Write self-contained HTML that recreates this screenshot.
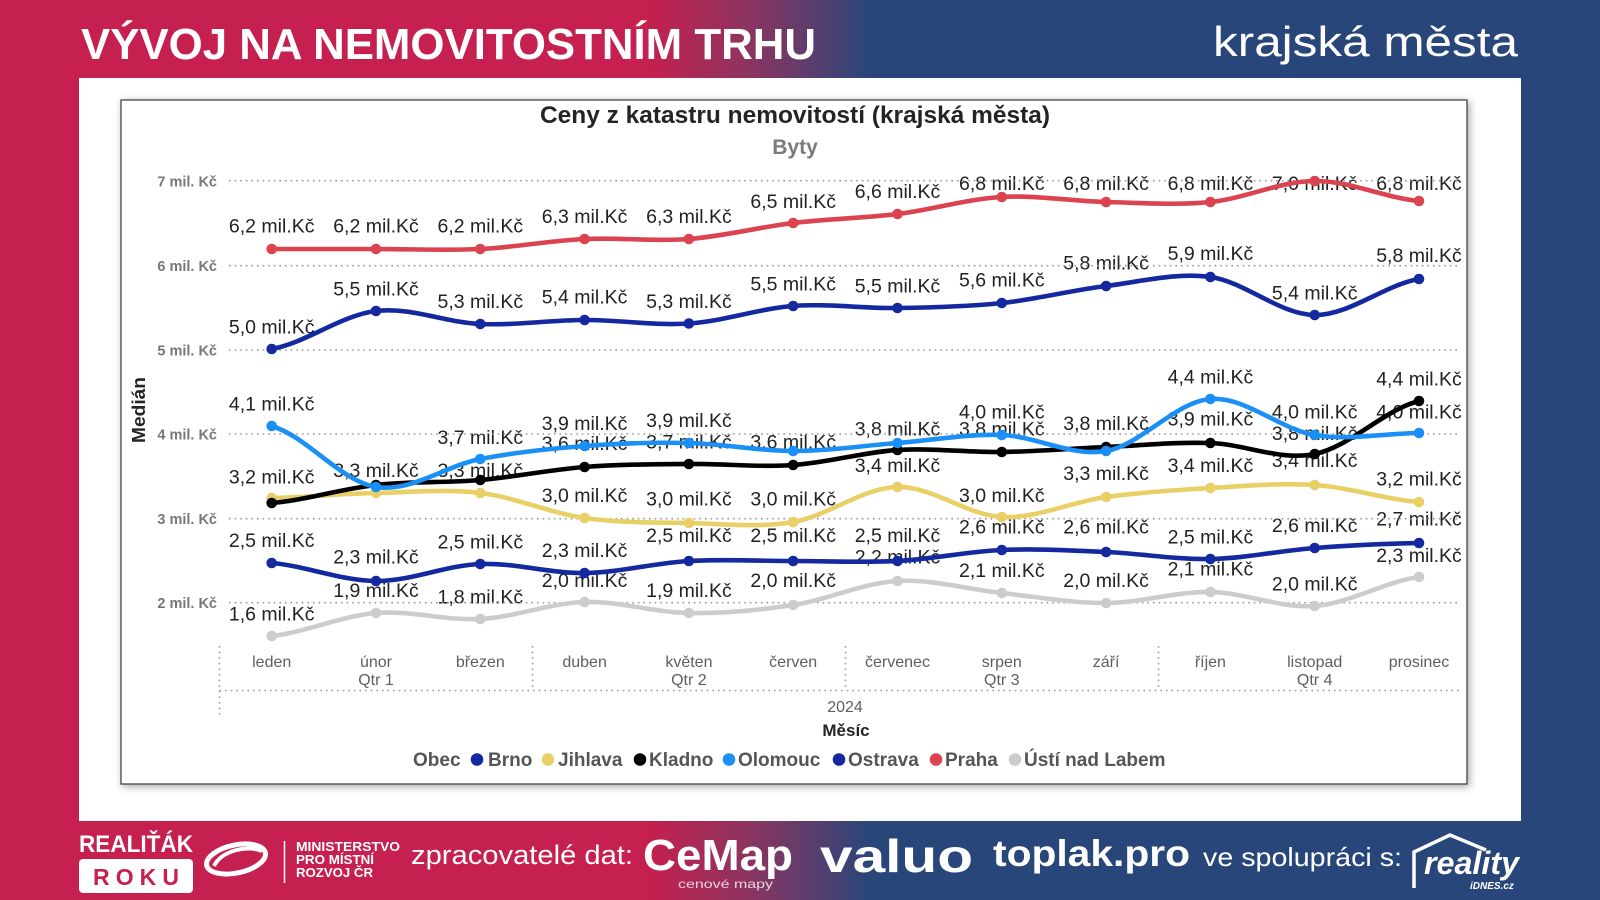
<!DOCTYPE html>
<html><head><meta charset="utf-8"><style>
html,body{margin:0;padding:0;background:#fff;}
body{width:1600px;height:900px;overflow:hidden;}
svg{display:block;}
.lb{font-family:"Liberation Sans",Arial,sans-serif;font-size:19.5px;fill:#222;text-anchor:middle;}
.yl{font-family:"Liberation Sans",Arial,sans-serif;font-size:14.5px;font-weight:bold;fill:#777;text-anchor:end;}
.mo{font-family:"Liberation Sans",Arial,sans-serif;font-size:16px;fill:#605E5C;text-anchor:middle;}
.lg{font-family:"Liberation Sans",Arial,sans-serif;font-size:19px;font-weight:bold;fill:#555;}
.ln{fill:none;stroke-width:4.6;stroke-linecap:round;stroke-linejoin:round;}
.gd{stroke:#9a9a9a;stroke-width:1.6;stroke-dasharray:1.6 4;fill:none;}
.ft{font-family:"Liberation Sans",Arial,sans-serif;fill:#fff;}
</style></head><body>
<svg width="1600" height="900" viewBox="0 0 1600 900" xmlns="http://www.w3.org/2000/svg">
<defs>
<linearGradient id="bg" x1="0" y1="0" x2="1600" y2="0" gradientUnits="userSpaceOnUse">
<stop offset="0" stop-color="#C5204F"/>
<stop offset="0.405" stop-color="#C5204F"/>
<stop offset="0.47" stop-color="#8A3561"/>
<stop offset="0.545" stop-color="#28467A"/>
<stop offset="1" stop-color="#28467A"/>
</linearGradient>
<filter id="sh" x="-5%" y="-5%" width="110%" height="110%">
<feDropShadow dx="2" dy="2" stdDeviation="4" flood-color="#000" flood-opacity="0.35"/>
</filter>
</defs>
<rect x="0" y="0" width="1600" height="900" fill="url(#bg)"/>

<!-- header -->
<text class="ft" x="81" y="59" font-size="44" font-weight="bold" textLength="735" lengthAdjust="spacingAndGlyphs">VÝVOJ NA NEMOVITOSTNÍM TRHU</text>
<text class="ft" x="1213" y="56" font-size="42" textLength="305" lengthAdjust="spacingAndGlyphs">krajská města</text>

<!-- white panel -->
<rect x="79" y="78" width="1442" height="743" fill="#fff"/>
<!-- chart frame -->
<rect x="121" y="100" width="1346" height="684" fill="#fff" stroke="#444" stroke-width="1.3" filter="url(#sh)"/>

<!-- titles -->
<text x="795" y="123" font-family="Liberation Sans, Arial, sans-serif" font-size="24.5" font-weight="bold" fill="#252423" text-anchor="middle" textLength="510" lengthAdjust="spacingAndGlyphs">Ceny z katastru nemovitostí (krajská města)</text>
<text x="795" y="154" font-family="Liberation Sans, Arial, sans-serif" font-size="21" font-weight="bold" fill="#7a7a7a" text-anchor="middle">Byty</text>

<!-- y axis labels -->
<text class="yl" x="217" y="186.5">7 mil. Kč</text>
<text class="yl" x="217" y="271">6 mil. Kč</text>
<text class="yl" x="217" y="355.5">5 mil. Kč</text>
<text class="yl" x="217" y="439.5">4 mil. Kč</text>
<text class="yl" x="217" y="524">3 mil. Kč</text>
<text class="yl" x="217" y="608">2 mil. Kč</text>
<text x="145" y="410" transform="rotate(-90 145 410)" font-family="Liberation Sans, Arial, sans-serif" font-size="18" font-weight="bold" fill="#252423" text-anchor="middle" textLength="66" lengthAdjust="spacingAndGlyphs">Medián</text>

<!-- data labels -->
<g class="lb">
<text x="271.7" y="232.5">6,2 mil.Kč</text><text x="271.7" y="333.5">5,0 mil.Kč</text><text x="271.7" y="410.5">4,1 mil.Kč</text><text x="271.7" y="483.7">3,2 mil.Kč</text><text x="271.7" y="547">2,5 mil.Kč</text><text x="271.7" y="620.3">1,6 mil.Kč</text>
<text x="376" y="232.5">6,2 mil.Kč</text><text x="376" y="295.5">5,5 mil.Kč</text><text x="376" y="477">3,3 mil.Kč</text><text x="376" y="563.7">2,3 mil.Kč</text><text x="376" y="597">1,9 mil.Kč</text>
<text x="480.3" y="232.5">6,2 mil.Kč</text><text x="480.3" y="308">5,3 mil.Kč</text><text x="480.3" y="444">3,7 mil.Kč</text><text x="480.3" y="477">3,3 mil.Kč</text><text x="480.3" y="548.7">2,5 mil.Kč</text><text x="480.3" y="603.7">1,8 mil.Kč</text>
<text x="584.6" y="223">6,3 mil.Kč</text><text x="584.6" y="303.7">5,4 mil.Kč</text><text x="584.6" y="430">3,9 mil.Kč</text><text x="584.6" y="450">3,6 mil.Kč</text><text x="584.6" y="502">3,0 mil.Kč</text><text x="584.6" y="557">2,3 mil.Kč</text><text x="584.6" y="587">2,0 mil.Kč</text>
<text x="688.9" y="223">6,3 mil.Kč</text><text x="688.9" y="308">5,3 mil.Kč</text><text x="688.9" y="427">3,9 mil.Kč</text><text x="688.9" y="448.5">3,7 mil.Kč</text><text x="688.9" y="505.5">3,0 mil.Kč</text><text x="688.9" y="542">2,5 mil.Kč</text><text x="688.9" y="597">1,9 mil.Kč</text>
<text x="793.2" y="208">6,5 mil.Kč</text><text x="793.2" y="290.6">5,5 mil.Kč</text><text x="793.2" y="448.5">3,6 mil.Kč</text><text x="793.2" y="505.5">3,0 mil.Kč</text><text x="793.2" y="542">2,5 mil.Kč</text><text x="793.2" y="587">2,0 mil.Kč</text>
<text x="897.5" y="198">6,6 mil.Kč</text><text x="897.5" y="292.6">5,5 mil.Kč</text><text x="897.5" y="435.7">3,8 mil.Kč</text><text x="897.5" y="472">3,4 mil.Kč</text><text x="897.5" y="542">2,5 mil.Kč</text><text x="897.5" y="563.7">2,2 mil.Kč</text>
<text x="1001.8" y="190">6,8 mil.Kč</text><text x="1001.8" y="286.5">5,6 mil.Kč</text><text x="1001.8" y="418.7">4,0 mil.Kč</text><text x="1001.8" y="435.7">3,8 mil.Kč</text><text x="1001.8" y="502">3,0 mil.Kč</text><text x="1001.8" y="533.7">2,6 mil.Kč</text><text x="1001.8" y="577">2,1 mil.Kč</text>
<text x="1106.1" y="190">6,8 mil.Kč</text><text x="1106.1" y="269.7">5,8 mil.Kč</text><text x="1106.1" y="430">3,8 mil.Kč</text><text x="1106.1" y="480">3,3 mil.Kč</text><text x="1106.1" y="533.7">2,6 mil.Kč</text><text x="1106.1" y="587">2,0 mil.Kč</text>
<text x="1210.4" y="190">6,8 mil.Kč</text><text x="1210.4" y="260">5,9 mil.Kč</text><text x="1210.4" y="383.7">4,4 mil.Kč</text><text x="1210.4" y="425.3">3,9 mil.Kč</text><text x="1210.4" y="472">3,4 mil.Kč</text><text x="1210.4" y="543.7">2,5 mil.Kč</text><text x="1210.4" y="575.3">2,1 mil.Kč</text>
<text x="1314.7" y="190">7,0 mil.Kč</text><text x="1314.7" y="299.7">5,4 mil.Kč</text><text x="1314.7" y="418.7">4,0 mil.Kč</text><text x="1314.7" y="440">3,8 mil.Kč</text><text x="1314.7" y="467">3,4 mil.Kč</text><text x="1314.7" y="532">2,6 mil.Kč</text><text x="1314.7" y="590.3">2,0 mil.Kč</text>
<text x="1419" y="190">6,8 mil.Kč</text><text x="1419" y="262">5,8 mil.Kč</text><text x="1419" y="385.3">4,4 mil.Kč</text><text x="1419" y="418.7">4,0 mil.Kč</text><text x="1419" y="485.3">3,2 mil.Kč</text><text x="1419" y="525.3">2,7 mil.Kč</text><text x="1419" y="562">2,3 mil.Kč</text>
</g>

<!-- gridlines -->
<g class="gd">
<line x1="229" y1="180.7" x2="1460" y2="180.7"/>
<line x1="229" y1="265.7" x2="1460" y2="265.7"/>
<line x1="229" y1="350" x2="1460" y2="350"/>
<line x1="229" y1="434" x2="1460" y2="434"/>
<line x1="229" y1="518.7" x2="1460" y2="518.7"/>
<line x1="229" y1="602.7" x2="1460" y2="602.7"/>
</g>

<!-- series -->
<!-- Brno -->
<path class="ln" stroke="#1428A0" d="M271.7,349 C306.5,342.7 341.2,315.2 376,311 C410.8,306.8 445.5,322.5 480.3,324 C515.1,325.5 549.8,320.1 584.6,320 C619.4,319.9 654.1,325.8 688.9,323.5 C723.7,321.2 758.4,308.6 793.2,306 C828,303.4 862.7,308.5 897.5,308 C932.3,307.5 967,306.7 1001.8,303 C1036.6,299.3 1071.3,290.3 1106.1,286 C1140.9,281.7 1175.6,272.2 1210.4,277 C1245.2,281.8 1279.9,314.7 1314.7,315 C1349.5,315.3 1384.2,285 1419,279"/>
<g fill="#1428A0"><circle cx="271.7" cy="349" r="5.3"/><circle cx="376" cy="311" r="5.3"/><circle cx="480.3" cy="324" r="5.3"/><circle cx="584.6" cy="320" r="5.3"/><circle cx="688.9" cy="323.5" r="5.3"/><circle cx="793.2" cy="306" r="5.3"/><circle cx="897.5" cy="308" r="5.3"/><circle cx="1001.8" cy="303" r="5.3"/><circle cx="1106.1" cy="286" r="5.3"/><circle cx="1210.4" cy="277" r="5.3"/><circle cx="1314.7" cy="315" r="5.3"/><circle cx="1419" cy="279" r="5.3"/></g>
<!-- Jihlava -->
<path class="ln" stroke="#E8CF66" d="M271.7,498 C306.5,497.2 341.2,493.8 376,493 C410.8,492.2 445.5,488.8 480.3,493 C515.1,497.2 549.8,513 584.6,518 C619.4,523 654.1,522.3 688.9,523 C723.7,523.7 758.4,528 793.2,522 C828,516 862.7,487.8 897.5,487 C932.3,486.2 967,515.3 1001.8,517 C1036.6,518.7 1071.3,501.8 1106.1,497 C1140.9,492.2 1175.6,490 1210.4,488 C1245.2,486 1279.9,482.7 1314.7,485 C1349.5,487.3 1384.2,499.2 1419,502"/>
<g fill="#E8CF66"><circle cx="271.7" cy="498" r="5.3"/><circle cx="376" cy="493" r="5.3"/><circle cx="480.3" cy="493" r="5.3"/><circle cx="584.6" cy="518" r="5.3"/><circle cx="688.9" cy="523" r="5.3"/><circle cx="793.2" cy="522" r="5.3"/><circle cx="897.5" cy="487" r="5.3"/><circle cx="1001.8" cy="517" r="5.3"/><circle cx="1106.1" cy="497" r="5.3"/><circle cx="1210.4" cy="488" r="5.3"/><circle cx="1314.7" cy="485" r="5.3"/><circle cx="1419" cy="502" r="5.3"/></g>
<!-- Kladno -->
<path class="ln" stroke="#000" d="M271.7,503 C306.5,500 341.2,488.8 376,485 C410.8,481.2 445.5,483 480.3,480 C515.1,477 549.8,469.7 584.6,467 C619.4,464.3 654.1,464.3 688.9,464 C723.7,463.7 758.4,467.3 793.2,465 C828,462.7 862.7,452.2 897.5,450 C932.3,447.8 967,452.5 1001.8,452 C1036.6,451.5 1071.3,448.5 1106.1,447 C1140.9,445.5 1175.6,441.8 1210.4,443 C1245.2,444.2 1279.9,461 1314.7,454 C1349.5,447 1384.2,409.8 1419,401"/>
<g fill="#000"><circle cx="271.7" cy="503" r="5.3"/><circle cx="376" cy="485" r="5.3"/><circle cx="480.3" cy="480" r="5.3"/><circle cx="584.6" cy="467" r="5.3"/><circle cx="688.9" cy="464" r="5.3"/><circle cx="793.2" cy="465" r="5.3"/><circle cx="897.5" cy="450" r="5.3"/><circle cx="1001.8" cy="452" r="5.3"/><circle cx="1106.1" cy="447" r="5.3"/><circle cx="1210.4" cy="443" r="5.3"/><circle cx="1314.7" cy="454" r="5.3"/><circle cx="1419" cy="401" r="5.3"/></g>
<!-- Olomouc -->
<path class="ln" stroke="#1A8FF5" d="M271.7,426 C306.5,436.2 341.2,481.5 376,487 C410.8,492.5 445.5,465.8 480.3,459 C515.1,452.2 549.8,448.7 584.6,446 C619.4,443.3 654.1,442.2 688.9,443 C723.7,443.8 758.4,451 793.2,451 C828,451 862.7,445.7 897.5,443 C932.3,440.3 967,433.7 1001.8,435 C1036.6,436.3 1071.3,457 1106.1,451 C1140.9,445 1175.6,401.7 1210.4,399 C1245.2,396.3 1279.9,429.3 1314.7,435 C1349.5,440.7 1384.2,433.3 1419,433"/>
<g fill="#1A8FF5"><circle cx="271.7" cy="426" r="5.3"/><circle cx="376" cy="487" r="5.3"/><circle cx="480.3" cy="459" r="5.3"/><circle cx="584.6" cy="446" r="5.3"/><circle cx="688.9" cy="443" r="5.3"/><circle cx="793.2" cy="451" r="5.3"/><circle cx="897.5" cy="443" r="5.3"/><circle cx="1001.8" cy="435" r="5.3"/><circle cx="1106.1" cy="451" r="5.3"/><circle cx="1210.4" cy="399" r="5.3"/><circle cx="1314.7" cy="435" r="5.3"/><circle cx="1419" cy="433" r="5.3"/></g>
<!-- Ostrava -->
<path class="ln" stroke="#1428A0" d="M271.7,563 C306.5,566 341.2,580.8 376,581 C410.8,581.2 445.5,565.3 480.3,564 C515.1,562.7 549.8,573.5 584.6,573 C619.4,572.5 654.1,563 688.9,561 C723.7,559 758.4,561 793.2,561 C828,561 862.7,562.8 897.5,561 C932.3,559.2 967,551.5 1001.8,550 C1036.6,548.5 1071.3,550.5 1106.1,552 C1140.9,553.5 1175.6,559.7 1210.4,559 C1245.2,558.3 1279.9,550.7 1314.7,548 C1349.5,545.3 1384.2,543.8 1419,543"/>
<g fill="#1428A0"><circle cx="271.7" cy="563" r="5.3"/><circle cx="376" cy="581" r="5.3"/><circle cx="480.3" cy="564" r="5.3"/><circle cx="584.6" cy="573" r="5.3"/><circle cx="688.9" cy="561" r="5.3"/><circle cx="793.2" cy="561" r="5.3"/><circle cx="897.5" cy="561" r="5.3"/><circle cx="1001.8" cy="550" r="5.3"/><circle cx="1106.1" cy="552" r="5.3"/><circle cx="1210.4" cy="559" r="5.3"/><circle cx="1314.7" cy="548" r="5.3"/><circle cx="1419" cy="543" r="5.3"/></g>
<!-- Praha -->
<path class="ln" stroke="#DB4350" d="M271.7,249 C306.5,249 341.2,249 376,249 C410.8,249 445.5,250.7 480.3,249 C515.1,247.3 549.8,240.7 584.6,239 C619.4,237.3 654.1,241.7 688.9,239 C723.7,236.3 758.4,227.2 793.2,223 C828,218.8 862.7,218.3 897.5,214 C932.3,209.7 967,199 1001.8,197 C1036.6,195 1071.3,201.2 1106.1,202 C1140.9,202.8 1175.6,205.5 1210.4,202 C1245.2,198.5 1279.9,181.2 1314.7,181 C1349.5,180.8 1384.2,197.7 1419,201"/>
<g fill="#DB4350"><circle cx="271.7" cy="249" r="5.3"/><circle cx="376" cy="249" r="5.3"/><circle cx="480.3" cy="249" r="5.3"/><circle cx="584.6" cy="239" r="5.3"/><circle cx="688.9" cy="239" r="5.3"/><circle cx="793.2" cy="223" r="5.3"/><circle cx="897.5" cy="214" r="5.3"/><circle cx="1001.8" cy="197" r="5.3"/><circle cx="1106.1" cy="202" r="5.3"/><circle cx="1210.4" cy="202" r="5.3"/><circle cx="1314.7" cy="181" r="5.3"/><circle cx="1419" cy="201" r="5.3"/></g>
<!-- Ústí -->
<path class="ln" stroke="#CCCCCC" d="M271.7,636 C306.5,632.2 341.2,615.8 376,613 C410.8,610.2 445.5,620.8 480.3,619 C515.1,617.2 549.8,603 584.6,602 C619.4,601 654.1,612.5 688.9,613 C723.7,613.5 758.4,610.3 793.2,605 C828,599.7 862.7,583 897.5,581 C932.3,579 967,589.3 1001.8,593 C1036.6,596.7 1071.3,603.2 1106.1,603 C1140.9,602.8 1175.6,591.5 1210.4,592 C1245.2,592.5 1279.9,608.5 1314.7,606 C1349.5,603.5 1384.2,581.8 1419,577"/>
<g fill="#CCCCCC"><circle cx="271.7" cy="636" r="5.3"/><circle cx="376" cy="613" r="5.3"/><circle cx="480.3" cy="619" r="5.3"/><circle cx="584.6" cy="602" r="5.3"/><circle cx="688.9" cy="613" r="5.3"/><circle cx="793.2" cy="605" r="5.3"/><circle cx="897.5" cy="581" r="5.3"/><circle cx="1001.8" cy="593" r="5.3"/><circle cx="1106.1" cy="603" r="5.3"/><circle cx="1210.4" cy="592" r="5.3"/><circle cx="1314.7" cy="606" r="5.3"/><circle cx="1419" cy="577" r="5.3"/></g>

<!-- x axis -->
<g class="gd" stroke="#bbb">
<line x1="219.5" y1="646" x2="219.5" y2="717"/>
<line x1="532.5" y1="646" x2="532.5" y2="688"/>
<line x1="845.5" y1="646" x2="845.5" y2="688"/>
<line x1="1158.5" y1="646" x2="1158.5" y2="688"/>
<line x1="219.5" y1="690.5" x2="1462" y2="690.5"/>
</g>
<g class="mo">
<text x="271.7" y="667">leden</text><text x="376" y="667">únor</text><text x="480.3" y="667">březen</text><text x="584.6" y="667">duben</text><text x="688.9" y="667">květen</text><text x="793.2" y="667">červen</text><text x="897.5" y="667">červenec</text><text x="1001.8" y="667">srpen</text><text x="1106.1" y="667">září</text><text x="1210.4" y="667">říjen</text><text x="1314.7" y="667">listopad</text><text x="1419" y="667">prosinec</text>
<text x="376" y="685">Qtr 1</text><text x="688.9" y="685">Qtr 2</text><text x="1001.8" y="685">Qtr 3</text><text x="1314.7" y="685">Qtr 4</text>
<text x="845" y="712">2024</text>
</g>
<text x="846" y="736" font-family="Liberation Sans, Arial, sans-serif" font-size="17" font-weight="bold" fill="#252423" text-anchor="middle">Měsíc</text>

<!-- legend -->
<text class="lg" x="413" y="766">Obec</text>
<circle cx="477" cy="759.5" r="6.3" fill="#1428A0"/><text class="lg" x="488" y="766">Brno</text>
<circle cx="548" cy="759.5" r="6.3" fill="#E8CF66"/><text class="lg" x="558" y="766">Jihlava</text>
<circle cx="640" cy="759.5" r="6.3" fill="#000"/><text class="lg" x="649" y="766">Kladno</text>
<circle cx="729" cy="759.5" r="6.3" fill="#1A8FF5"/><text class="lg" x="738" y="766">Olomouc</text>
<circle cx="839" cy="759.5" r="6.3" fill="#1428A0"/><text class="lg" x="848" y="766">Ostrava</text>
<circle cx="936" cy="759.5" r="6.3" fill="#DB4350"/><text class="lg" x="945" y="766">Praha</text>
<circle cx="1015" cy="759.5" r="6.3" fill="#CCCCCC"/><text class="lg" x="1024" y="766">Ústí nad Labem</text>

<!-- footer -->
<text class="ft" x="79" y="852" font-size="24" font-weight="bold" textLength="114" lengthAdjust="spacingAndGlyphs">REALIŤÁK</text>
<rect x="79" y="859" width="114" height="34" rx="4" fill="#fff"/>
<text x="136" y="885" font-family="Liberation Sans, Arial, sans-serif" font-size="23" font-weight="bold" fill="#C5204F" text-anchor="middle" textLength="86" lengthAdjust="spacing">ROKU</text>
<g fill="none" stroke="#fff">
<ellipse cx="236" cy="859" rx="30" ry="14" stroke-width="5" transform="rotate(-12 236 859)"/>
<path d="M214,866 C222,850 248,845 262,851" stroke-width="4"/>
</g>
<line x1="284.5" y1="841" x2="284.5" y2="883" stroke="#fff" stroke-width="1.5"/>
<g class="ft" font-size="12.5" font-weight="bold">
<text x="296" y="851" textLength="104" lengthAdjust="spacingAndGlyphs">MINISTERSTVO</text>
<text x="296" y="864" textLength="78" lengthAdjust="spacingAndGlyphs">PRO MÍSTNÍ</text>
<text x="296" y="877" textLength="77" lengthAdjust="spacingAndGlyphs">ROZVOJ ČR</text>
</g>
<text class="ft" x="411" y="864" font-size="27" textLength="222" lengthAdjust="spacingAndGlyphs">zpracovatelé dat:</text>
<text class="ft" x="643" y="870" font-size="44" font-weight="bold" textLength="150" lengthAdjust="spacingAndGlyphs">CeMap</text>
<text class="ft" x="678" y="888" font-size="12" fill-opacity="0.8" textLength="95" lengthAdjust="spacingAndGlyphs">cenové mapy</text>
<text class="ft" x="820" y="872" font-size="46" font-weight="bold" textLength="153" lengthAdjust="spacingAndGlyphs">valuo</text>
<text class="ft" x="993" y="866" font-size="37" font-weight="bold" textLength="197" lengthAdjust="spacingAndGlyphs">toplak.pro</text>
<text class="ft" x="1203" y="866" font-size="26" textLength="199" lengthAdjust="spacingAndGlyphs">ve spolupráci s:</text>
<path d="M1414,888 L1414,852 L1450,835 L1486,850" fill="none" stroke="#fff" stroke-width="3.5"/>
<text class="ft" x="1424" y="874" font-size="32" font-weight="bold" font-style="italic" textLength="95" lengthAdjust="spacingAndGlyphs">reality</text>
<text class="ft" x="1470" y="889" font-size="10" font-weight="bold" font-style="italic">iDNES.cz</text>
</svg>
</body></html>
